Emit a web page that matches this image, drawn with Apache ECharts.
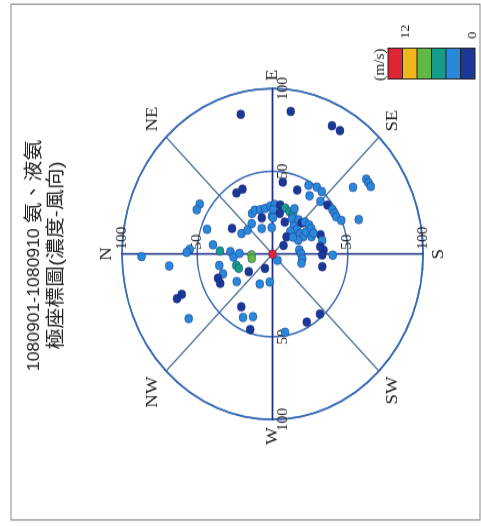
<!DOCTYPE html>
<html><head><meta charset="utf-8">
<script src="https://cdn.jsdelivr.net/npm/echarts@6/dist/echarts.min.js"></script>
<style>
html,body{margin:0;padding:0;background:#fff;overflow:hidden;width:481px;height:526px;}
#chart{position:absolute;left:0;top:0;width:478.3px;height:481px;transform-origin:0 0;transform:translate(0px,526px) rotate(-90deg) scaleX(1.0997);}
</style></head><body><div id="chart"></div>
<script>
// ---- text ----
const titleDates = '1080901-1080910';
const titleSubstance = '氨、液氨';
const titleLine2 = '極座標圖(濃度-風向)';
const directionLabels = ['N', 'NE', 'E', 'SE', 'S', 'SW', 'W', 'NW'];
const radiusTickLabels = ['', '50', '100'];
const speedUnit = '(m/s)';
const speedEndLabels = ['12', '0'];

// ---- wind speed classes (m/s) ----
const speedBreaks = [0, 2, 4, 6, 8, 10, 12];
const speedColors = ['#1b3797', '#2a88da', '#179b8b', '#62b846', '#f1b61b', '#df2433'];

// ---- data: wind direction (deg), concentration, wind speed (m/s) ----
const windDir = [
  76, 98, 117, 121, 143, 144, 146, 148, 160, 359, 354, 337, 338, 325, 32, 28, 19, 57, 63, 99,
  113, 120, 125, 126, 131, 135, 141, 146, 149, 152, 156, 30, 31, 61, 66, 73, 80, 87, 72, 53,
  65, 89, 88, 8, 93, 91, 100, 107, 114, 119, 101, 118, 91, 113, 121, 130, 136, 138, 144, 130,
  138, 146, 153, 131, 132, 149, 149, 158, 160, 166, 145, 172, 176, 179, 188, 196, 181, 181, 193, 229,
  276, 229, 241, 260, 172, 155, 154, 143, 41, 3, 1, 3, 3, 356, 1, 344, 339, 358, 349, 349,
  340, 338, 333, 325, 326, 295, 300, 303, 297, 289, 288, 0
];
const concentration = [
  87, 87, 87, 87, 67, 77, 77, 77, 61, 87, 69, 69, 65, 68, 57, 57, 46, 44, 44, 44,
  42, 48, 43, 50, 50, 45, 47, 48, 48, 48, 50, 31, 24, 28, 29, 28, 28, 29, 23, 23,
  17, 23, 16, 40, 30, 27, 30, 29, 28, 28, 25, 31, 22, 21, 25, 27, 27, 29, 30, 22,
  22, 22, 23, 18, 14, 26, 30, 28, 34, 34, 9, 18, 34, 19, 20, 20, 33, 40, 34, 5,
  17, 48, 47, 48, 32, 30, 19, 17, 22, 55, 57, 35, 28, 26, 22, 25, 24, 14, 14, 36,
  35, 39, 39, 29, 19, 20, 10, 38, 43, 40, 48, 0
];
const windSpeed = [
  1, 1, 1, 1, 3, 3, 3, 3, 3, 3, 3, 1, 1, 3, 3, 3, 3, 1, 1, 1,
  1, 3, 3, 3, 3, 3, 1, 3, 3, 3, 3, 1, 3, 3, 3, 3, 3, 3, 1, 3,
  3, 3, 3, 3, 3, 3, 1, 5, 5, 5, 1, 3, 3, 1, 3, 3, 1, 3, 3, 3,
  3, 3, 3, 3, 1, 3, 3, 3, 1, 3, 1, 3, 1, 3, 3, 3, 1, 3, 1, 3,
  3, 1, 1, 3, 1, 3, 3, 3, 3, 3, 3, 5, 3, 3, 3, 5, 5, 7, 7, 3,
  3, 1, 1, 3, 1, 3, 1, 1, 3, 3, 1, 11
];

const points = windDir.map((d, i) => [concentration[i], d, windSpeed[i]]);
const pieces = speedColors.map((c, i) => ({ gte: speedBreaks[i], lt: speedBreaks[i + 1], color: c, label: '' }));
pieces[pieces.length - 1].lte = speedBreaks[speedBreaks.length - 1];
delete pieces[pieces.length - 1].lt;

const serif = '"Liberation Serif", "DejaVu Serif", serif';
const sans = '"Liberation Sans", "Noto Sans CJK TC", sans-serif';
const circleColor = '#3b6db6';
const spokeColor = '#4f7497';
const crossColor = '#1f2f86';
const C = [247.3, 272.5];
const R = 150.5;

function dirFmt(v) { return directionLabels[Math.round(v / 45) % 8]; }
function rFmt(v) { return radiusTickLabels[Math.round(v / 50)] || ''; }

const hLabel = { margin: 0, align: 'center', verticalAlign: 'top', padding: [4, 0, 0, 0], formatter: rFmt, fontFamily: serif, fontSize: 14, color: '#222' };
const vLabel = { margin: 0, align: 'left', verticalAlign: 'middle', padding: [0, 0, 0, 4], formatter: rFmt, fontFamily: serif, fontSize: 14, color: '#222' };

function radAx(idx, label, split) {
  return {
    polarIndex: idx, type: 'value', min: 0, max: 100, interval: 50,
    axisLine: { show: true, lineStyle: { color: crossColor, width: 1.4 } },
    axisTick: { show: false },
    axisLabel: label,
    splitLine: { show: split, lineStyle: { color: circleColor, width: 1.6 } },
    z: 3
  };
}
function hiddenAngle(idx, start) {
  return { polarIndex: idx, type: 'value', min: 0, max: 360, startAngle: start, clockwise: true, show: false };
}

const chart = echarts.init(document.getElementById('chart'), null, { renderer: 'canvas' });
chart.setOption({
  backgroundColor: '#ffffff',
  animation: false,
  title: {
    text: '{d|' + titleDates + ' }{c|' + titleSubstance + '}', subtext: titleLine2,
    left: 246, top: 25, textAlign: 'center', itemGap: 3, padding: 0,
    textStyle: {
      fontFamily: sans, fontSize: 16, fontWeight: 'normal', color: '#222',
      rich: {
        d: { fontFamily: sans, fontSize: 16, color: '#222' },
        c: { fontFamily: sans, fontSize: 19, color: '#222' }
      }
    },
    subtextStyle: { fontFamily: sans, fontSize: 19, color: '#222' }
  },
  polar: [0, 1, 2, 3].map(() => ({ center: C, radius: R })),
  angleAxis: [
    {
      polarIndex: 0, type: 'value', min: 0, max: 360, interval: 45, startAngle: 90, clockwise: true,
      axisLine: { show: true, lineStyle: { color: circleColor, width: 1.6 } },
      axisTick: { show: false },
      axisLabel: { formatter: dirFmt, margin: 7, fontFamily: serif, fontSize: 17, color: '#222' },
      splitLine: { show: true, lineStyle: { color: spokeColor, width: 1.3 } }
    },
    hiddenAngle(1, 0), hiddenAngle(2, 180), hiddenAngle(3, 270)
  ],
  radiusAxis: [
    radAx(0, vLabel, true),
    radAx(1, hLabel, false),
    radAx(2, hLabel, false),
    radAx(3, vLabel, false)
  ],
  visualMap: {
    type: 'piecewise', dimension: 2, seriesIndex: 0, pieces: pieces,
    orient: 'vertical', left: 406, top: 387.5,
    itemWidth: 27, itemHeight: 13.5, itemGap: 1, itemSymbol: 'rect',
    showLabel: false, padding: 1, backgroundColor: '#222', borderWidth: 0,
    selectedMode: false, hoverLink: false
  },
  graphic: [
    { type: 'rect', shape: { x: 5.5, y: 11, width: 469, height: 469 }, style: { fill: 'none', stroke: '#8a8a8a', lineWidth: 1.2 }, silent: true },
    { type: 'text', x: 419.5, y: 380, style: { text: speedUnit, font: '14px ' + serif, fill: '#222', textAlign: 'center', textVerticalAlign: 'middle' } },
    { type: 'text', x: 443, y: 406, style: { text: speedEndLabels[0], font: '13px ' + serif, fill: '#222', textAlign: 'left', textVerticalAlign: 'middle' } },
    { type: 'text', x: 443, y: 473, style: { text: speedEndLabels[1], font: '13px ' + serif, fill: '#222', textAlign: 'left', textVerticalAlign: 'middle' } }
  ],
  series: [{
    type: 'scatter', coordinateSystem: 'polar', polarIndex: 0,
    symbolSize: 8, data: points, z: 5,
    itemStyle: { opacity: 1, borderColor: 'rgba(22,40,120,0.55)', borderWidth: 0.8 }
  }]
});
</script></body></html>
